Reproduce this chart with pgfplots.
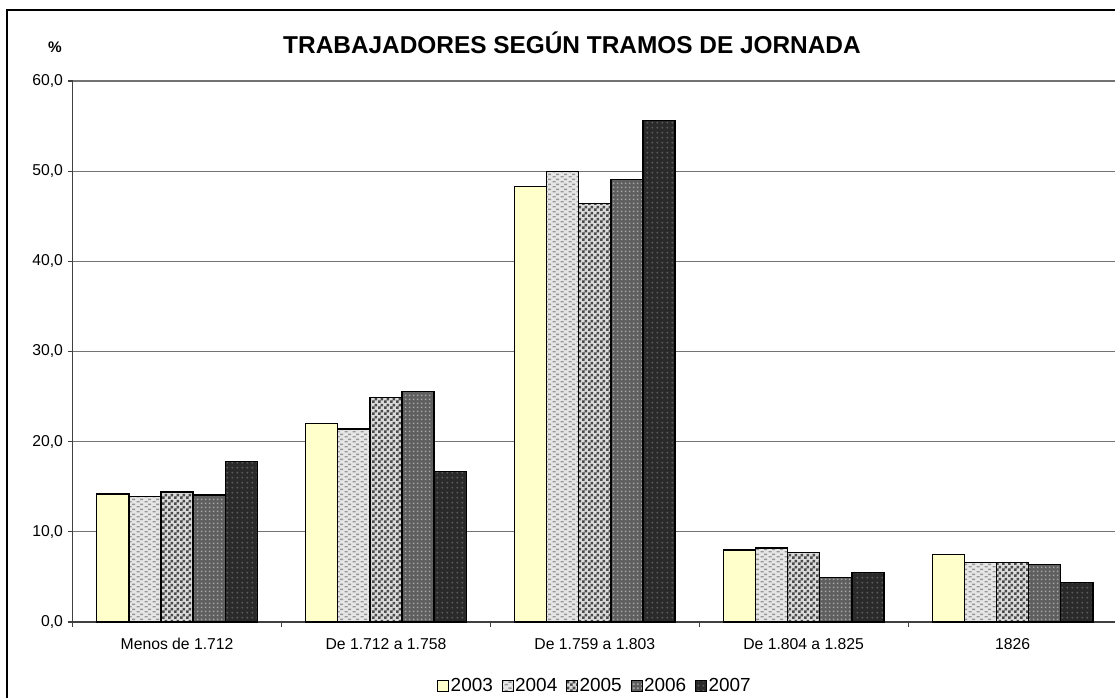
\documentclass[border=0pt]{standalone}
\usepackage{pgfplots}
\pgfplotsset{compat=1.18}
\usepackage{fontspec}
\setmainfont{Liberation Sans}
\usetikzlibrary{patterns}
\definecolor{c2003}{HTML}{FFFFCC}
\definecolor{c2004}{HTML}{E6E6E6}
\definecolor{p2004}{HTML}{969696}
\definecolor{c2005}{HTML}{DADADA}
\definecolor{p2005}{HTML}{4A4A4A}
\definecolor{c2006}{HTML}{5E5E5E}
\definecolor{p2006}{HTML}{A8A8A8}
\definecolor{c2007}{HTML}{2A2A2A}
\definecolor{p2007}{HTML}{5A5A5A}
\pgfdeclarepatternformonly{hdash}{\pgfpointorigin}{\pgfqpoint{6pt}{4pt}}{\pgfqpoint{6pt}{4pt}}{%
 \pgfpathrectangle{\pgfqpoint{0.5pt}{0.5pt}}{\pgfqpoint{2.6pt}{1.1pt}}%
 \pgfpathrectangle{\pgfqpoint{3.5pt}{2.5pt}}{\pgfqpoint{2.6pt}{1.1pt}}%
 \pgfusepath{fill}}
\pgfdeclarepatternformonly{checks}{\pgfpointorigin}{\pgfqpoint{4.5pt}{4.5pt}}{\pgfqpoint{4.5pt}{4.5pt}}{%
 \pgfpathrectangle{\pgfpointorigin}{\pgfqpoint{2.25pt}{2.25pt}}%
 \pgfpathrectangle{\pgfqpoint{2.25pt}{2.25pt}}{\pgfqpoint{2.25pt}{2.25pt}}%
 \pgfusepath{fill}}
\pgfdeclarepatternformonly{sqdots}{\pgfpointorigin}{\pgfqpoint{3pt}{3pt}}{\pgfqpoint{3pt}{3pt}}{%
 \pgfpathrectangle{\pgfqpoint{0.75pt}{0.75pt}}{\pgfqpoint{1.5pt}{1.5pt}}%
 \pgfusepath{fill}}
\pgfdeclarepatternformonly{rdots}{\pgfpointorigin}{\pgfqpoint{3.6pt}{3.6pt}}{\pgfqpoint{3.6pt}{3.6pt}}{%
 \pgfpathcircle{\pgfqpoint{1.8pt}{1.8pt}}{0.8pt}%
 \pgfusepath{fill}}
\begin{document}
\begin{tikzpicture}
\path[use as bounding box] (0,0) rectangle (836.25pt,522.75pt);
\draw[black, line width=0.8pt] (5.25pt,-5pt) -- (5.25pt,515.25pt) -- (845pt,515.25pt);
\node[font=\fontsize{18.3}{21}\selectfont\bfseries] at (429pt,490.5pt) {TRABAJADORES SEGÚN TRAMOS DE JORNADA};
\node[font=\fontsize{11.5}{13}\selectfont\bfseries] at (41.25pt,487.5pt) {\%};
\begin{axis}[
  at={(54.5pt,56.25pt)}, anchor=south west,
  scale only axis, width=783.2pt, height=405.75pt,
  ybar=0pt, bar width=24.1pt,
  xmin=-0.5, xmax=4.5, ymin=0, ymax=60,
  axis x line*=bottom, axis y line*=left,
  axis line style={black!75, line width=0.8pt},
  xtick={-0.5,0.5,...,4.5}, xticklabels={},
  extra x ticks={0,1,2,3,4},
  extra x tick labels={Menos de 1.712, De 1.712 a 1.758, De 1.759 a 1.803, De 1.804 a 1.825, 1826},
  extra x tick style={major tick length=0pt, grid=none},
  ytick={0,10,...,60},
  ymajorgrids, grid style={black!55, line width=0.8pt},
  tick align=outside, major tick length=3.75pt,
  tick style={black!75, line width=0.8pt},
  tick label style={font=\fontsize{11.8}{13}\selectfont},
  xticklabel style={anchor=north, text height=9pt, text depth=2pt, yshift=-8pt},
  yticklabel style={/pgf/number format/.cd, fixed, fixed zerofill, precision=1, use comma, assume math mode=true},
  legend style={at={(0.5,-0.118)}, anchor=center, draw=none, fill=none,
    font=\fontsize{14.2}{16}\selectfont, legend columns=5,
    /tikz/every even column/.append style={column sep=5.5pt},
    nodes={inner xsep=1.2pt}},
  legend image code/.code={\draw[#1, line width=0.6pt] (0pt,-4.1pt) rectangle (8.25pt,4.1pt);},
]
\addplot[draw=black, line width=1pt, fill=c2003] coordinates {(0,14.2) (1,22.0) (2,48.3) (3,8.0) (4,7.5)};
\addplot[draw=black, line width=1pt, fill=c2004, postaction={pattern=hdash, pattern color=p2004}] coordinates {(0,13.9) (1,21.4) (2,50.0) (3,8.2) (4,6.6)};
\addplot[draw=black, line width=1pt, fill=c2005, postaction={pattern=checks, pattern color=p2005}] coordinates {(0,14.4) (1,24.9) (2,46.4) (3,7.7) (4,6.6)};
\addplot[draw=black, line width=1pt, fill=c2006, postaction={pattern=sqdots, pattern color=p2006}] coordinates {(0,14.1) (1,25.6) (2,49.1) (3,4.9) (4,6.4)};
\addplot[draw=black, line width=1pt, fill=c2007, postaction={pattern=rdots, pattern color=p2007}] coordinates {(0,17.8) (1,16.7) (2,55.6) (3,5.5) (4,4.4)};
\legend{2003,2004,2005,2006,2007}
\end{axis}
\end{tikzpicture}
\end{document}
